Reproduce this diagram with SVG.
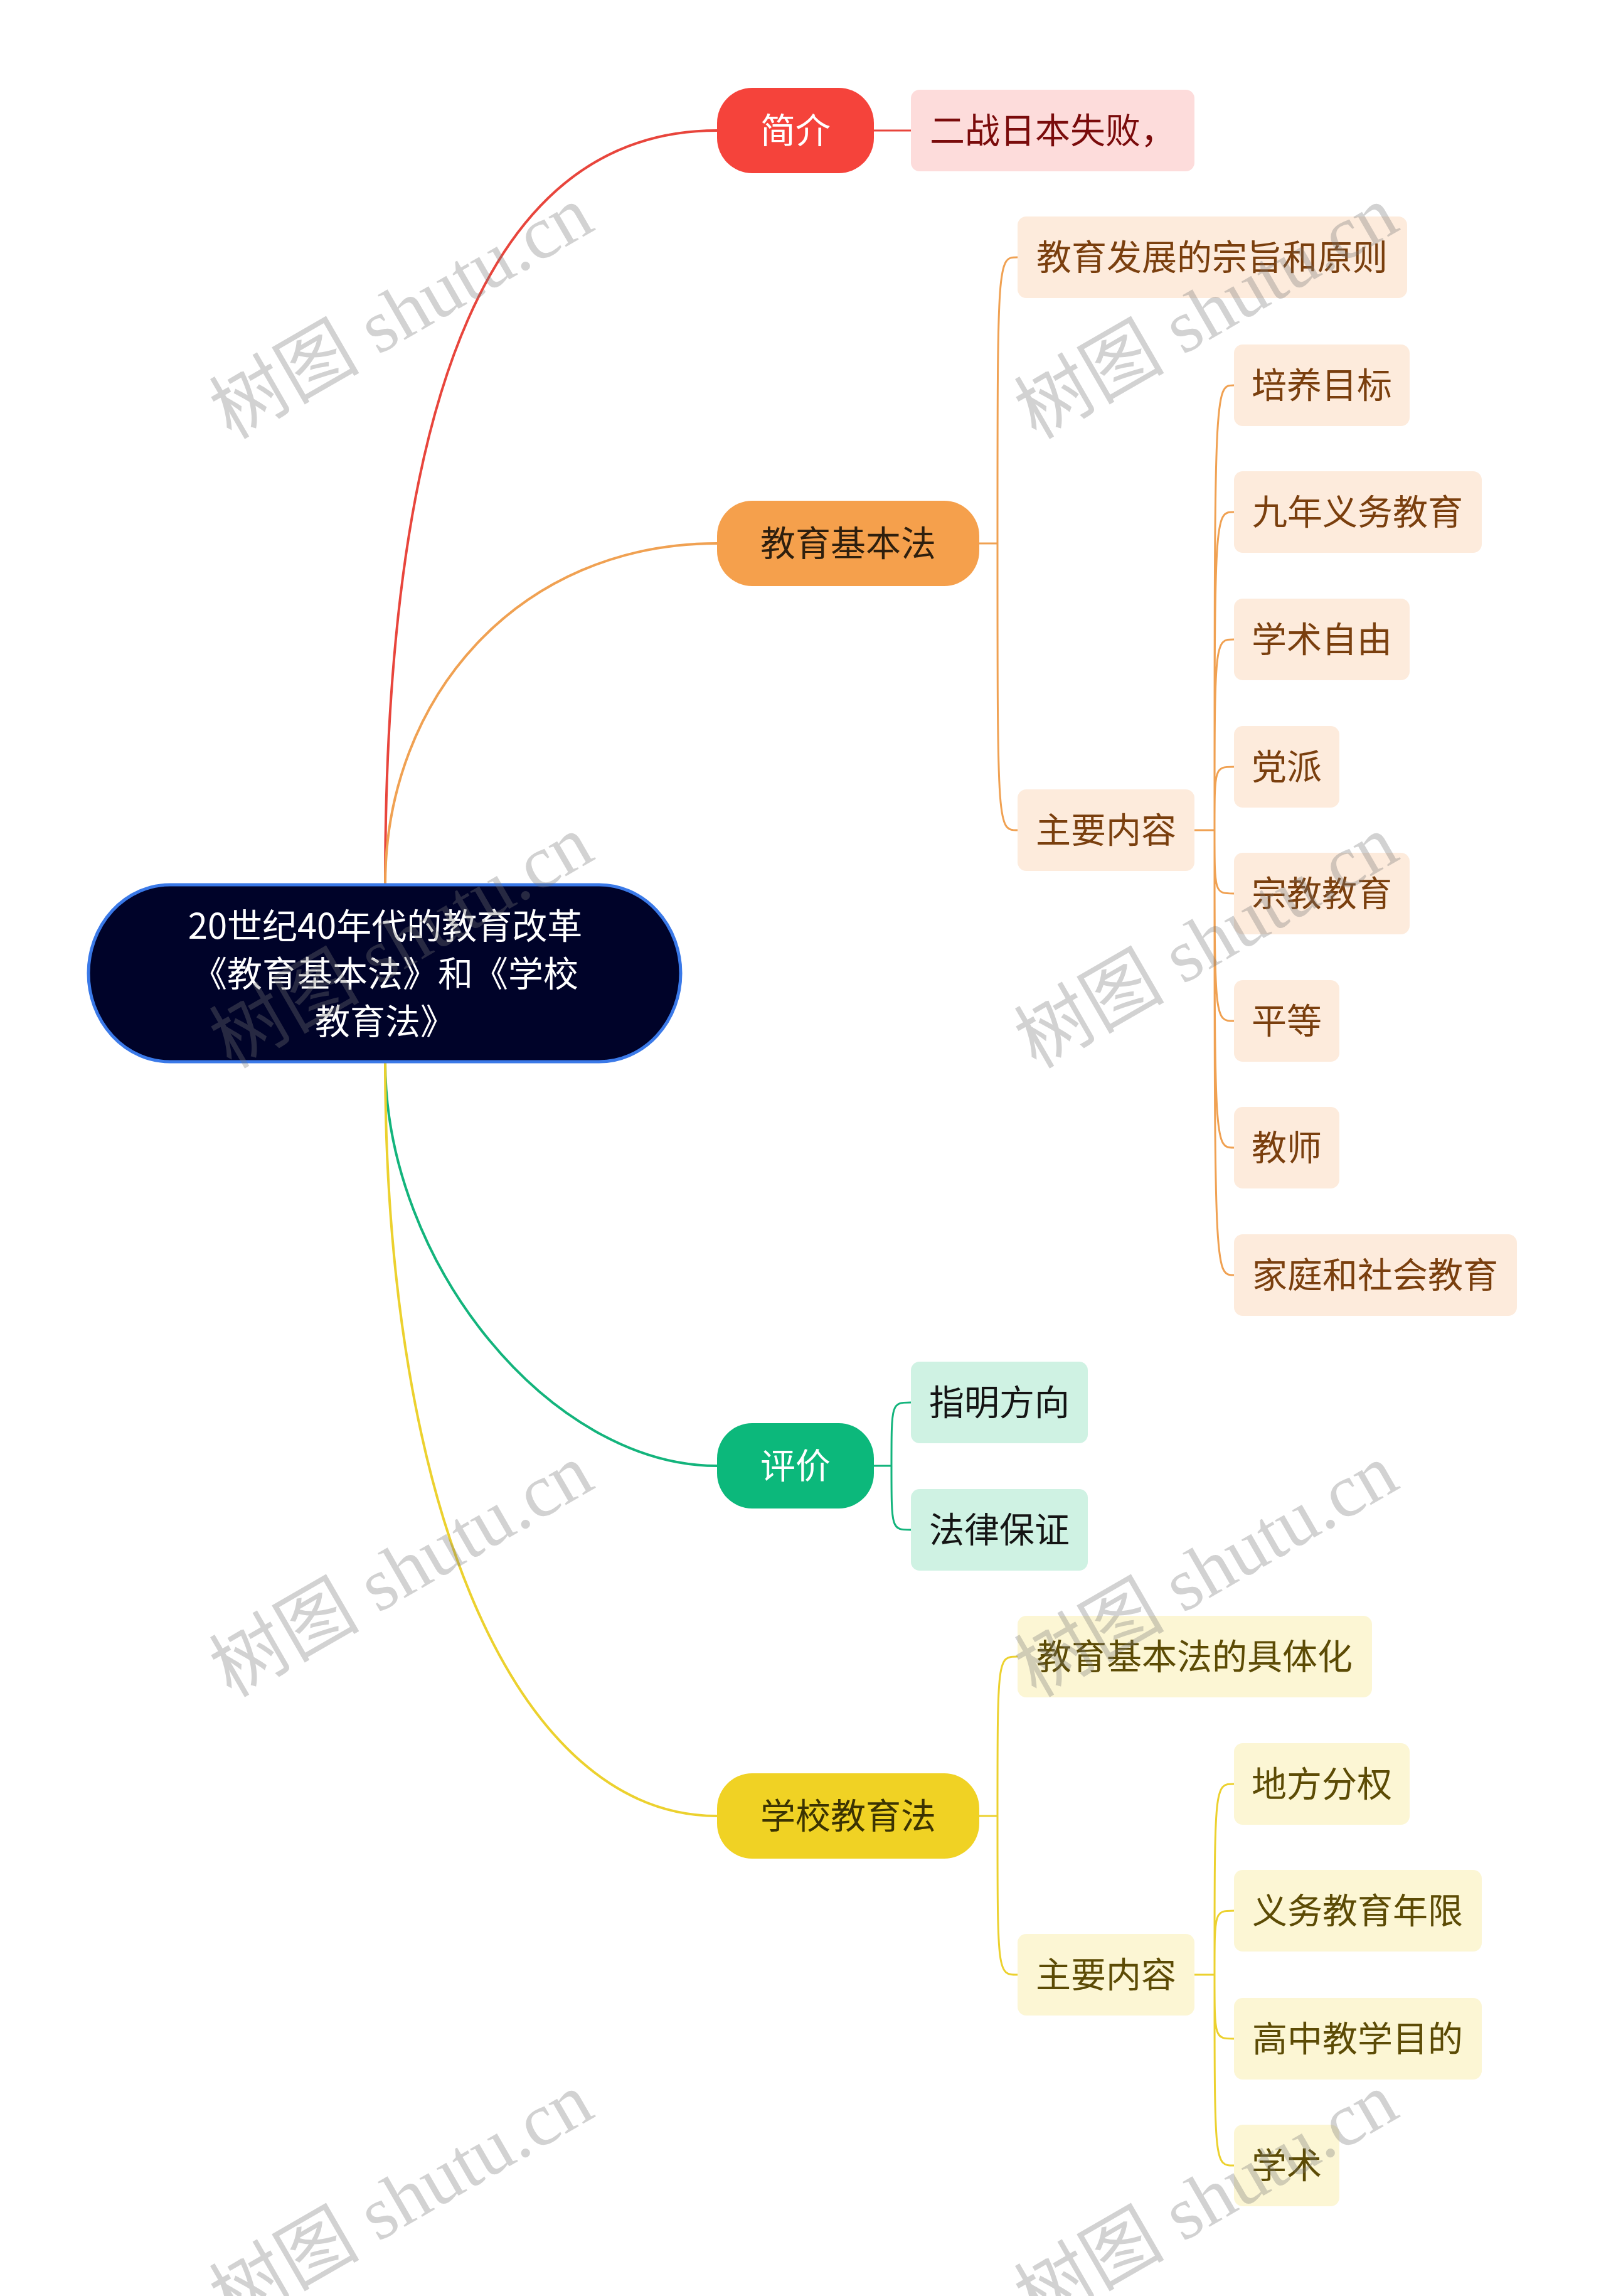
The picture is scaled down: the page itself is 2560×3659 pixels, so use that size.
<svg xmlns="http://www.w3.org/2000/svg" width="2560" height="3659" viewBox="0 0 2560 3659">
<style>
.t{font-family:"Noto Sans CJK SC","Noto Sans",sans-serif;font-size:56px;text-anchor:middle}
.main{fill:none;stroke-width:4;stroke-linecap:round}
.br{fill:none;stroke-width:3}
.red{stroke:#e8453c}.org{stroke:#f0a152}.grn{stroke:#13b47c}.yel{stroke:#ecd12e}
.cR{fill:#fddcdb}.cO{fill:#fdebdc}.cG{fill:#cff2e3}.cY{fill:#fcf6d4}
.tR{fill:#7a0b0b}.tO{fill:#7a3f0e}.tG{fill:#141414}.tY{fill:#5c4b05}
.wm{font-family:"Liberation Serif","Noto Sans CJK SC",serif;font-size:120px;fill:#777;fill-opacity:0.33;text-anchor:middle}
</style>
<rect width="2560" height="3659" fill="#ffffff"/>
<g id="connectors">
<path class="main red" d="M614 1410 Q614 208 1143 208"/>
<path class="main org" d="M614 1410 C614 1111 827 866 1143 866"/>
<path class="main grn" d="M614 1692 C614 2014 878 2336 1143 2336"/>
<path class="main yel" d="M614 1692 C614 2413 826 2894 1143 2894"/>
<path class="br red" d="M1393 208 H1452"/>
<path class="br org" d="M1561 866 H1590 M1590 866 C1590 410 1590 410 1622 410 M1590 866 C1590 1323 1590 1323 1622 1323"/>
<path class="br org" d="M1904 1323 H1936 M1936 1323 C1936 614 1936 614 1967 614 M1936 1323 C1936 816 1936 816 1967 816 M1936 1323 C1936 1019 1936 1019 1967 1019 M1936 1323 C1936 1222 1936 1222 1967 1222 M1936 1323 C1936 1424 1936 1424 1967 1424 M1936 1323 C1936 1627 1936 1627 1967 1627 M1936 1323 C1936 1829 1936 1829 1967 1829 M1936 1323 C1936 2032 1936 2032 1967 2032"/>
<path class="br grn" d="M1393 2336 H1421 M1421 2336 C1421 2235 1421 2235 1452 2235 M1421 2336 C1421 2438 1421 2438 1452 2438"/>
<path class="br yel" d="M1561 2894 H1590 M1590 2894 C1590 2640 1590 2640 1622 2640 M1590 2894 C1590 3147 1590 3147 1622 3147"/>
<path class="br yel" d="M1904 3147 H1936 M1936 3147 C1936 2843 1936 2843 1967 2843 M1936 3147 C1936 3045 1936 3045 1967 3045 M1936 3147 C1936 3249 1936 3249 1967 3249 M1936 3147 C1936 3451 1936 3451 1967 3451"/>
</g>
<g id="root">
<rect x="141" y="1410" width="944" height="282" rx="130" ry="141" fill="#000329" stroke="#3a79e8" stroke-width="5"/>
<text class="t" fill="#ffffff"><tspan x="614" y="1496">20世纪40年代的教育改革</tspan><tspan x="614" y="1572">《教育基本法》和《学校</tspan><tspan x="614" y="1648">教育法》</tspan></text>
</g>
<g id="n-jianjie"><rect x="1143" y="140" width="250" height="136" rx="56" fill="#f5433b"/><text class="t" x="1268" y="228" fill="#ffffff">简介</text></g>
<g id="n-erzhan"><rect class="cR" x="1452" y="143" width="452" height="130" rx="14"/><text class="t tR" x="1678" y="228">二战日本失败，</text></g>
<g id="n-jbf"><rect x="1143" y="798" width="418" height="136" rx="56" fill="#f5a04c"/><text class="t" x="1352" y="886" fill="#2e1f0e">教育基本法</text></g>
<g id="n-zongzhi"><rect class="cO" x="1622" y="345" width="621" height="130" rx="14"/><text class="t tO" x="1932" y="430">教育发展的宗旨和原则</text></g>
<g id="n-zynr1"><rect class="cO" x="1622" y="1258" width="282" height="130" rx="14"/><text class="t tO" x="1763" y="1343">主要内容</text></g>
<g id="n-pymb"><rect class="cO" x="1967" y="549" width="280" height="130" rx="14"/><text class="t tO" x="2107" y="634">培养目标</text></g>
<g id="n-jnyw"><rect class="cO" x="1967" y="751" width="395" height="130" rx="14"/><text class="t tO" x="2164" y="836">九年义务教育</text></g>
<g id="n-xszy"><rect class="cO" x="1967" y="954" width="280" height="130" rx="14"/><text class="t tO" x="2107" y="1039">学术自由</text></g>
<g id="n-dangpai"><rect class="cO" x="1967" y="1157" width="168" height="130" rx="14"/><text class="t tO" x="2051" y="1242">党派</text></g>
<g id="n-zjjy"><rect class="cO" x="1967" y="1359" width="280" height="130" rx="14"/><text class="t tO" x="2107" y="1444">宗教教育</text></g>
<g id="n-pingdeng"><rect class="cO" x="1967" y="1562" width="168" height="130" rx="14"/><text class="t tO" x="2051" y="1647">平等</text></g>
<g id="n-jiaoshi"><rect class="cO" x="1967" y="1764" width="168" height="130" rx="14"/><text class="t tO" x="2051" y="1849">教师</text></g>
<g id="n-jtsh"><rect class="cO" x="1967" y="1967" width="451" height="130" rx="14"/><text class="t tO" x="2192" y="2052">家庭和社会教育</text></g>
<g id="n-pingjia"><rect x="1143" y="2268" width="250" height="136" rx="56" fill="#0cb87b"/><text class="t" x="1268" y="2356" fill="#ffffff">评价</text></g>
<g id="n-zmfx"><rect class="cG" x="1452" y="2170" width="282" height="130" rx="14"/><text class="t tG" x="1593" y="2255">指明方向</text></g>
<g id="n-flbz"><rect class="cG" x="1452" y="2373" width="282" height="130" rx="14"/><text class="t tG" x="1593" y="2458">法律保证</text></g>
<g id="n-xxjyf"><rect x="1143" y="2826" width="418" height="136" rx="56" fill="#f0d224"/><text class="t" x="1352" y="2914" fill="#3b3302">学校教育法</text></g>
<g id="n-jth"><rect class="cY" x="1622" y="2575" width="565" height="130" rx="14"/><text class="t tY" x="1904" y="2660">教育基本法的具体化</text></g>
<g id="n-zynr2"><rect class="cY" x="1622" y="3082" width="282" height="130" rx="14"/><text class="t tY" x="1763" y="3167">主要内容</text></g>
<g id="n-dffq"><rect class="cY" x="1967" y="2778" width="280" height="130" rx="14"/><text class="t tY" x="2107" y="2863">地方分权</text></g>
<g id="n-ywjynx"><rect class="cY" x="1967" y="2980" width="395" height="130" rx="14"/><text class="t tY" x="2164" y="3065">义务教育年限</text></g>
<g id="n-gzjxmd"><rect class="cY" x="1967" y="3184" width="395" height="130" rx="14"/><text class="t tY" x="2164" y="3269">高中教学目的</text></g>
<g id="n-xueshu"><rect class="cY" x="1967" y="3386" width="168" height="130" rx="14"/><text class="t tY" x="2051" y="3471">学术</text></g>
<g id="watermarks">
<text class="wm" transform="translate(660 533) rotate(-30)">树图 shutu.cn</text>
<text class="wm" transform="translate(1943 533) rotate(-30)">树图 shutu.cn</text>
<text class="wm" transform="translate(660 1536) rotate(-30)">树图 shutu.cn</text>
<text class="wm" transform="translate(1943 1536) rotate(-30)">树图 shutu.cn</text>
<text class="wm" transform="translate(660 2538) rotate(-30)">树图 shutu.cn</text>
<text class="wm" transform="translate(1943 2538) rotate(-30)">树图 shutu.cn</text>
<text class="wm" transform="translate(660 3540) rotate(-30)">树图 shutu.cn</text>
<text class="wm" transform="translate(1943 3540) rotate(-30)">树图 shutu.cn</text>
</g>
</svg>
